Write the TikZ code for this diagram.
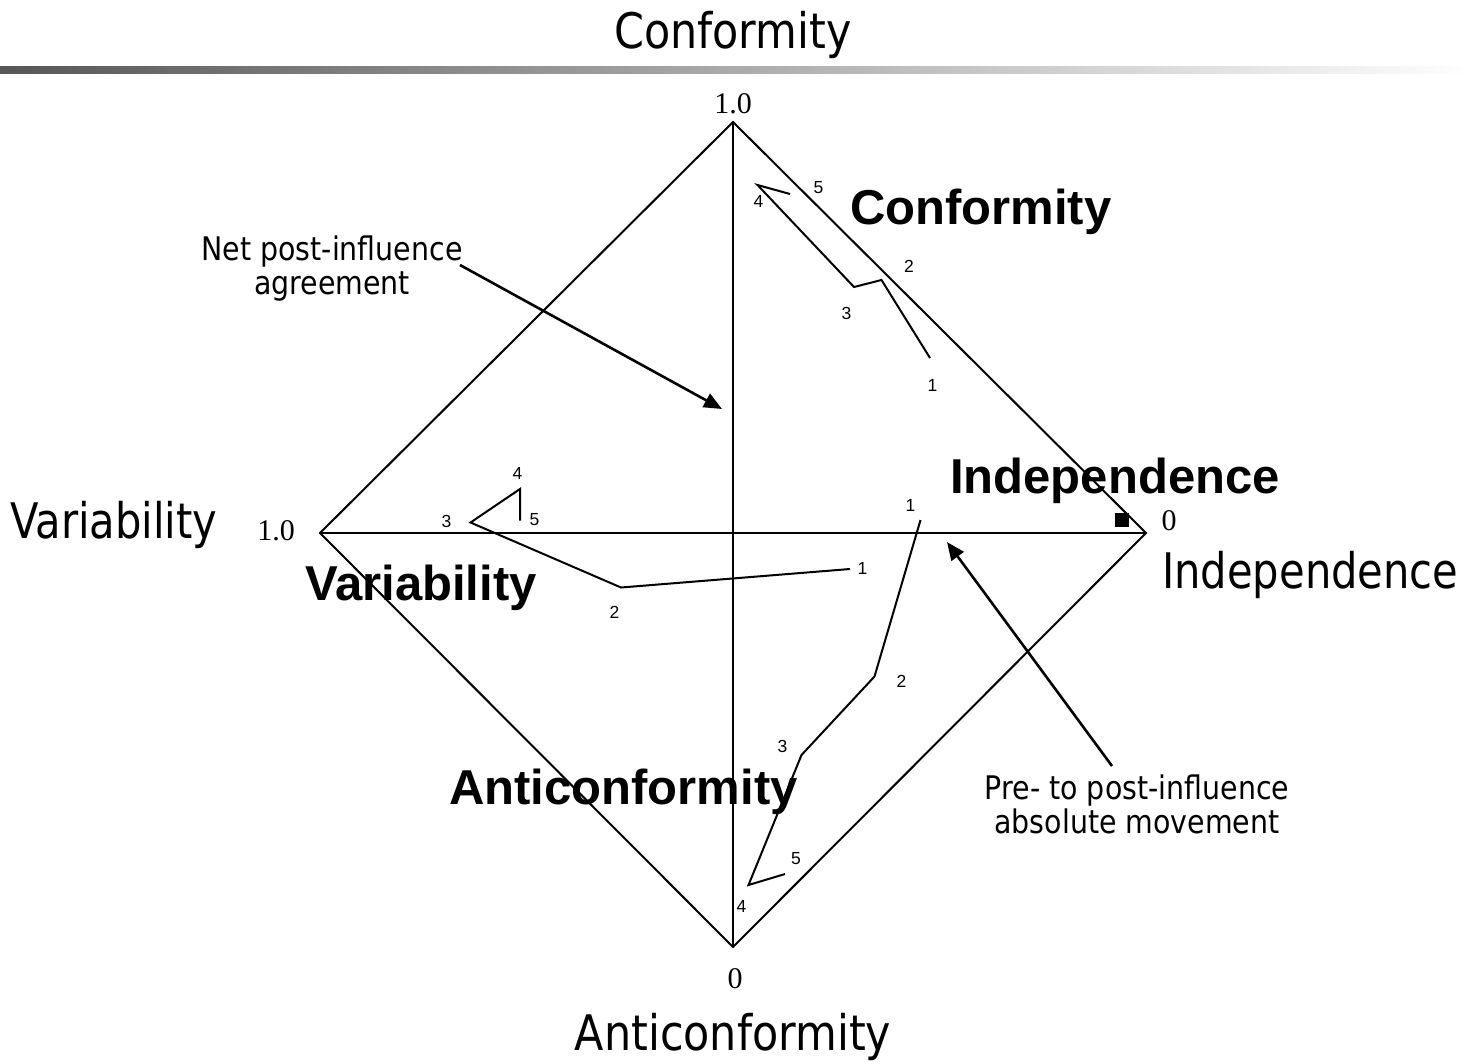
\documentclass[tikz,border=0pt]{standalone}
\usepackage{fontspec}
\setmainfont{Liberation Serif}
\setsansfont{Liberation Sans}
\newfontfamily\humanist[FakeStretch=0.875]{DejaVu Sans}
\newfontfamily\humanistnarrow[FakeStretch=0.85]{DejaVu Sans}
\usetikzlibrary{arrows.meta}

\tikzset{
  frame/.style={line width=2pt, line join=miter},
  track/.style={line width=2pt, line join=miter},
  pointer/.style={line width=2.6pt, -{Triangle[length=18pt,width=15pt]}},
  axistitle/.style={font=\humanist\fontsize{49}{52}\selectfont, inner sep=0pt, anchor=base},
  sidetitle/.style={font=\humanistnarrow\fontsize{49}{52}\selectfont, inner sep=0pt, anchor=base west},
  regionlabel/.style={font=\sffamily\bfseries\fontsize{49}{52}\selectfont, inner sep=0pt, anchor=base west},
  scalevalue/.style={font=\rmfamily\fontsize{30}{32}\selectfont, inner sep=0pt, anchor=base},
  stepnum/.style={font=\sffamily\fontsize{17.5}{19}\selectfont, inner sep=0pt},
  note/.style={font=\humanist\fontsize{32.5}{34}\selectfont, align=center, inner sep=0pt},
}

\begin{document}
\begin{tikzpicture}[x=1pt,y=-1pt]
\useasboundingbox (0,0) rectangle (1474,1063);

% title and rule
\node[axistitle] (ttl) at (733,48) {Conformity};
\shade[left color=black!66, middle color=black!24, right color=white] (0,66) rectangle (1474,73);

% diamond frame with its two axes
\coordinate (top) at (733,122);
\coordinate (lft) at (320,533);
\coordinate (rgt) at (1146,533);
\coordinate (bot) at (733,947);
\draw[frame] (top) -- (rgt) -- (bot) -- (lft) -- cycle;
\draw[frame] (top) -- (bot);
\draw[frame] (lft) -- (rgt);

% corner titles and scale values
\node[scalevalue] (vtop) at (733,113) {1.0};
\node[scalevalue] (vlft) at (276,540) {1.0};
\node[scalevalue] (vrgt) at (1169,530) {0};
\node[scalevalue] (vbot) at (735,988) {0};
\node[sidetitle] (tvar) at (10,538) {Variability};
\node[sidetitle] (tind) at (1162,588) {Independence};
\node[axistitle] (tanti) at (733,1050) {Anticonformity};

% region labels
\node[regionlabel] (rcon) at (850,224) {Conformity};
\node[regionlabel] (rind) at (950,493) {Independence};
\node[regionlabel] (rvar) at (305,600) {Variability};
\node[regionlabel] (ranti) at (449,804) {Anticonformity};

% marker at the independence corner
\node[fill=black, minimum size=14pt, inner sep=0pt] (mark0) at (1121.5,519.5) {};

% trajectory toward conformity
\coordinate (c1) at (930,358);
\coordinate (c2) at (881.5,280);
\coordinate (c3) at (854,287);
\coordinate (c4) at (757.5,185);
\coordinate (c5) at (790,194);
\draw[track] (c1) -- (c2) -- (c3) -- (c4) -- (c5);
\node[stepnum] (cl1) at (932.5,385) {1};
\node[stepnum] (cl2) at (909,266) {2};
\node[stepnum] (cl3) at (846.5,313) {3};
\node[stepnum] (cl4) at (758.5,201.5) {4};
\node[stepnum] (cl5) at (818.5,188) {5};

% trajectory toward variability
\coordinate (v1) at (850,569);
\coordinate (v2) at (621,587.5);
\coordinate (v3) at (470.5,522.5);
\coordinate (v4) at (520,489);
\coordinate (v5) at (520,520.5);
\draw[track] (v1) -- (v2) -- (v3) -- (v4) -- (v5);
\node[stepnum] (vl1) at (862.5,568.5) {1};
\node[stepnum] (vl2) at (614.5,612.5) {2};
\node[stepnum] (vl3) at (446.5,521) {3};
\node[stepnum] (vl4) at (517.5,473.5) {4};
\node[stepnum] (vl5) at (534.5,519.5) {5};

% trajectory toward anticonformity
\coordinate (a1) at (920.5,520);
\coordinate (a2) at (874.5,676.5);
\coordinate (a3) at (801.5,755);
\coordinate (a4) at (748.5,885);
\coordinate (a5) at (785,874);
\draw[track] (a1) -- (a2) -- (a3) -- (a4) -- (a5);
\node[stepnum] (al1) at (910.5,505) {1};
\node[stepnum] (al2) at (901.5,681.5) {2};
\node[stepnum] (al3) at (782.5,746.5) {3};
\node[stepnum] (al4) at (741.5,906.5) {4};
\node[stepnum] (al5) at (796,858.5) {5};

% explanatory notes with pointers
\node[note] (netnote) at (332,269) {Net post-influence\\agreement};
\coordinate (nettail) at (460,265);
\coordinate (nettip) at (722,409);
\draw[pointer] (nettail) -- (nettip);

\node[note] (movenote) at (1137,804) {Pre- to post-influence\\absolute movement};
\coordinate (movetail) at (1112,766);
\coordinate (movetip) at (947,542);
\draw[pointer] (movetail) -- (movetip);
\end{tikzpicture}
\end{document}
